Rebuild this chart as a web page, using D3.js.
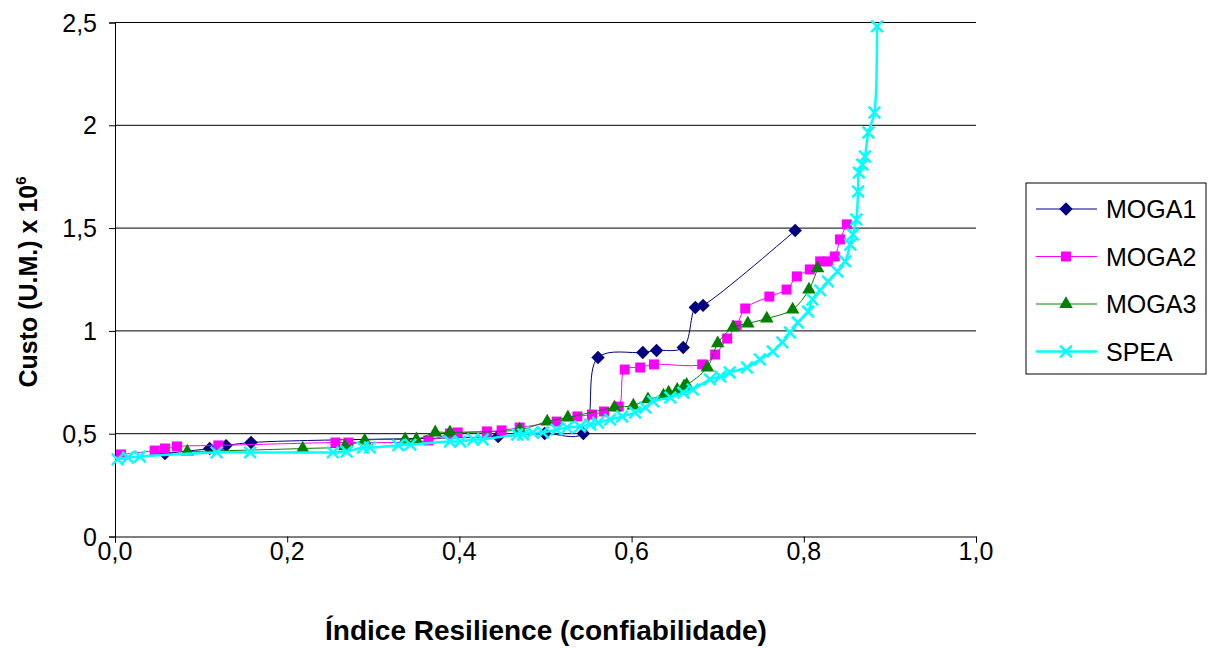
<!DOCTYPE html>
<html>
<head>
<meta charset="utf-8">
<script src="https://cdn.jsdelivr.net/npm/d3@7"></script>
<style>
  body { margin: 0; background: #fff; }
  svg { display: block; font-family: "Liberation Sans", Arial, sans-serif; }
</style>
</head>
<body>
<div id="chart"></div>
<script>
const X_TICKS = [0, 0.2, 0.4, 0.6, 0.8, 1.0];
const Y_TICKS = [0, 0.5, 1, 1.5, 2, 2.5];

const MOGA1 = [
  [0.058, 0.404], [0.110, 0.428], [0.129, 0.442], [0.158, 0.457], [0.445, 0.486],
  [0.499, 0.501], [0.544, 0.501], [0.561, 0.871], [0.613, 0.895], [0.629, 0.905],
  [0.660, 0.919], [0.674, 1.114], [0.683, 1.124], [0.790, 1.488]
];

const MOGA2 = [
  [0.007, 0.399], [0.046, 0.418], [0.058, 0.428], [0.072, 0.438], [0.120, 0.443],
  [0.256, 0.457], [0.271, 0.457], [0.364, 0.467], [0.389, 0.501], [0.398, 0.506],
  [0.432, 0.511], [0.449, 0.516], [0.470, 0.530], [0.513, 0.559], [0.537, 0.584],
  [0.554, 0.593], [0.568, 0.608], [0.585, 0.632], [0.592, 0.812], [0.610, 0.822],
  [0.626, 0.837], [0.682, 0.837], [0.697, 0.885], [0.711, 0.963], [0.722, 1.026],
  [0.732, 1.109], [0.760, 1.167], [0.780, 1.201], [0.792, 1.265], [0.807, 1.299],
  [0.819, 1.338], [0.828, 1.338], [0.836, 1.362], [0.842, 1.445], [0.850, 1.518]
];

const MOGA3 = [
  [0.084, 0.413], [0.218, 0.428], [0.267, 0.438], [0.290, 0.467], [0.337, 0.472],
  [0.350, 0.472], [0.372, 0.506], [0.389, 0.506], [0.470, 0.520], [0.502, 0.559],
  [0.526, 0.579], [0.580, 0.627], [0.602, 0.637], [0.619, 0.667], [0.637, 0.685],
  [0.643, 0.700], [0.653, 0.713], [0.661, 0.730], [0.664, 0.737], [0.688, 0.822],
  [0.700, 0.939], [0.718, 1.017], [0.735, 1.036], [0.757, 1.060], [0.787, 1.104],
  [0.806, 1.201], [0.816, 1.304]
];

const SPEA = [
  [0.003, 0.375], [0.015, 0.384], [0.029, 0.389], [0.118, 0.409], [0.157, 0.409],
  [0.253, 0.409], [0.269, 0.413], [0.288, 0.433], [0.296, 0.433], [0.329, 0.443],
  [0.343, 0.447], [0.389, 0.462], [0.401, 0.462], [0.416, 0.472], [0.427, 0.472],
  [0.467, 0.496], [0.474, 0.496], [0.485, 0.506], [0.497, 0.506], [0.513, 0.520],
  [0.525, 0.530], [0.540, 0.535], [0.552, 0.545], [0.561, 0.554], [0.575, 0.569],
  [0.589, 0.584], [0.604, 0.603], [0.616, 0.627], [0.625, 0.657], [0.645, 0.676],
  [0.660, 0.700], [0.671, 0.715], [0.691, 0.764], [0.703, 0.778], [0.714, 0.798],
  [0.734, 0.822], [0.749, 0.861], [0.764, 0.900], [0.775, 0.944], [0.784, 0.992],
  [0.793, 1.041], [0.805, 1.094], [0.810, 1.153], [0.819, 1.197], [0.828, 1.240],
  [0.839, 1.289], [0.848, 1.338], [0.854, 1.420], [0.857, 1.469], [0.861, 1.542],
  [0.863, 1.678], [0.864, 1.770], [0.868, 1.809], [0.871, 1.848], [0.875, 1.965],
  [0.882, 2.062], [0.885, 2.481]
];

// square diamond (Excel style), wider than d3.symbolDiamond
const diamond = {
  draw(ctx, size) {
    const r = Math.sqrt(size / 2);
    ctx.moveTo(0, -r); ctx.lineTo(r, 0); ctx.lineTo(0, r); ctx.lineTo(-r, 0); ctx.closePath();
  }
};

const SERIES = [
  { label: "MOGA1", data: MOGA1, color: "#000080", width: 1, symbol: diamond, size: 90 },
  { label: "MOGA2", data: MOGA2, color: "#ff00ff", width: 1, symbol: d3.symbolSquare, size: 100 },
  { label: "MOGA3", data: MOGA3, color: "#008000", width: 1, symbol: d3.symbolTriangle, size: 80 },
  { label: "SPEA", data: SPEA, color: "#00ffff", width: 2.5, symbol: d3.symbolX, size: 90 }
];

const W = 1216, H = 648;
const plotL = 115, plotR = 976, plotT = 22.5, plotB = 536.5;

const svg = d3.select("#chart").append("svg")
  .attr("width", W).attr("height", H);

const x = d3.scaleLinear().domain([0, 1]).range([plotL, plotR]);
const y = d3.scaleLinear().domain([0, 2.5]).range([plotB, plotT]);

// gridlines
svg.append("g")
  .selectAll("line")
  .data(Y_TICKS.filter(d => d > 0))
  .join("line")
  .attr("x1", plotL).attr("x2", plotR)
  .attr("y1", d => y(d)).attr("y2", d => y(d))
  .attr("stroke", "#000").attr("stroke-width", 1);

const fmt = d => d3.format(".1f")(d).replace(".", ",");
const fmtY = d => String(d).replace(".", ",");

const xAxis = svg.append("g")
  .attr("transform", `translate(0,${plotB})`)
  .call(d3.axisBottom(x).tickValues(X_TICKS).tickFormat("").tickSize(6));
const yAxis = svg.append("g")
  .attr("transform", `translate(${plotL},0)`)
  .call(d3.axisLeft(y).tickValues(Y_TICKS).tickFormat("").tickSize(6));
[xAxis, yAxis].forEach(a => {
  a.select(".domain").attr("stroke", "#000");
  a.selectAll(".tick line").attr("stroke", "#000");
});

// tick labels
svg.append("g").selectAll("text")
  .data(X_TICKS).join("text")
  .attr("x", d => x(d)).attr("y", 560)
  .attr("text-anchor", "middle")
  .attr("font-size", 25).attr("fill", "#000")
  .text(fmt);
svg.append("g").selectAll("text")
  .data(Y_TICKS).join("text")
  .attr("x", 97).attr("y", d => y(d) + 9)
  .attr("text-anchor", "end")
  .attr("font-size", 25).attr("fill", "#000")
  .text(fmtY);

const line = d3.line().x(d => x(d[0])).y(d => y(d[1])).curve(d3.curveCatmullRom.alpha(0.5));

function drawMarker(sel, s) {
  const isX = s.symbol === d3.symbolX;
  sel.attr("d", d3.symbol().type(s.symbol).size(s.size))
    .attr("fill", isX ? "none" : s.color)
    .attr("stroke", isX ? s.color : "none")
    .attr("stroke-width", isX ? 2.5 : 0);
}

// each series: line then its markers, later series on top
SERIES.forEach(s => {
  const g = svg.append("g");
  g.append("path")
    .datum(s.data)
    .attr("d", line)
    .attr("fill", "none")
    .attr("stroke", s.color)
    .attr("stroke-width", s.width);
  g.append("g")
    .selectAll("path")
    .data(s.data)
    .join("path")
    .attr("transform", d => `translate(${x(d[0])},${y(d[1])})`)
    .call(drawMarker, s);
});

// axis titles
svg.append("text")
  .attr("x", 546).attr("y", 640)
  .attr("text-anchor", "middle")
  .attr("font-size", 28).attr("font-weight", "bold")
  .text("Índice Resilience (confiabilidade)");

const yt = svg.append("text")
  .attr("transform", "translate(37,282) rotate(-90)")
  .attr("text-anchor", "middle")
  .attr("font-size", 25).attr("font-weight", "bold");
yt.append("tspan").text("Custo (U.M.) x 10");
yt.append("tspan").attr("font-size", 15).attr("dy", -11).text("6");

// legend
const legend = svg.append("g").attr("transform", "translate(1026,183)");
legend.append("rect").attr("width", 180).attr("height", 191)
  .attr("fill", "#fff").attr("stroke", "#000").attr("stroke-width", 1);
SERIES.forEach((s, i) => {
  const ly = 26 + i * 47.5;
  legend.append("line").attr("x1", 10).attr("x2", 71).attr("y1", ly).attr("y2", ly)
    .attr("stroke", s.color).attr("stroke-width", s.width);
  legend.append("path")
    .attr("transform", `translate(40,${ly})`)
    .call(drawMarker, s);
  legend.append("text").attr("x", 80).attr("y", ly + 9)
    .attr("font-size", 25).attr("fill", "#000").text(s.label);
});
</script>
</body>
</html>
